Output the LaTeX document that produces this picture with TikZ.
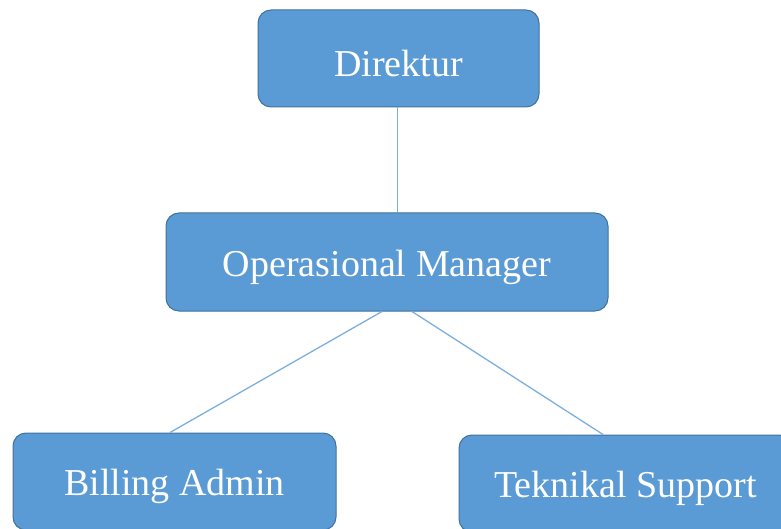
\documentclass[tikz,border=0pt]{standalone}
\usepackage{fontspec}
\setmainfont{Liberation Serif}
\usetikzlibrary{calc}
\definecolor{boxfill}{HTML}{5B9BD5}
\definecolor{boxedge}{HTML}{41719C}
\definecolor{linkcol}{HTML}{7DAEE0}
\newcommand{\lowtext}[1]{\raisebox{-5pt}[\height][\depth]{#1}}
\begin{document}
\begin{tikzpicture}[x=1pt,y=-1pt,
  orgbox/.style={draw=boxedge, line width=1pt, fill=boxfill, rounded corners=13pt,
    text=white, font=\fontsize{38}{40}\selectfont, inner sep=0pt, rectangle},
  link/.style={draw=linkcol, line width=1.3pt}]
\useasboundingbox (0,0) rectangle (781,529);
\clip (0,0) rectangle (781,529);
\node[orgbox, minimum width=281pt, minimum height=97pt] (dir) at (398.5,58.5) {\lowtext{Direktur}};
\node[orgbox, minimum width=442pt, minimum height=98pt] (op) at (387,262) {\lowtext{Operasional Manager}};
\node[orgbox, minimum width=323pt, minimum height=97pt] (bill) at (174.5,481.5) {\lowtext{Billing Admin}};
\node[orgbox, minimum width=333pt, minimum height=97pt] (tek) at (625.5,483.5) {\lowtext{Teknikal Support}};
\draw[link] ($(dir.south)+(-1,0)$) -- ($(op.north)+(10.5,0)$);
\draw[link] ($(op.south)+(-5,0)$) -- ($(bill.north)+(-4.5,0)$);
\draw[link] ($(op.south)+(25,0)$) -- ($(tek.north)+(-22.5,0)$);
\end{tikzpicture}
\end{document}
